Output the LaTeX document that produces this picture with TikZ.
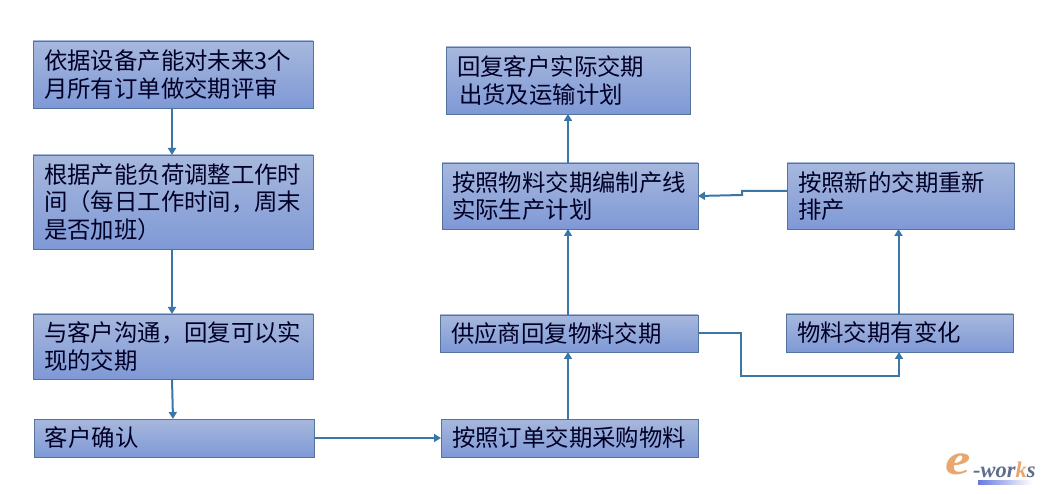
\documentclass[tikz,border=0pt]{standalone}
\usepackage{fontspec}
\usetikzlibrary{arrows.meta}
\newfontfamily\cjkfont{Noto Sans CJK SC}
\newfontfamily\logofont[BoldItalicFont=* Bold Italic]{Liberation Serif}
\definecolor{boxtop}{HTML}{A7B8DD}
\definecolor{boxbot}{HTML}{7F99D6}
\definecolor{boxline}{HTML}{54749F}
\definecolor{flowline}{HTML}{3A76A8}
\definecolor{logoorange}{HTML}{E9A66F}
\definecolor{logoblue}{HTML}{5F6E8C}
\tikzset{
  x=1pt, y=-1pt,
  flowbox/.style={draw=boxline, line width=0.9pt, top color=boxtop, bottom color=boxbot,
    anchor=north west, outer sep=0pt, inner ysep=0pt, inner xsep=11pt, align=left,
    text=black!85!blue, font=\cjkfont\fontsize{23.4}{27.5}\selectfont},
  link/.style={draw=flowline, line width=2pt, -{Triangle[length=7pt,width=8pt]}},
  logotext/.style={inner sep=0pt, anchor=west, font=\logofont\bfseries\itshape}
}
\begin{document}
\begin{tikzpicture}
\useasboundingbox (0,0) rectangle (1042,494);
\fill[white] (0,0) rectangle (1042,494);

% left column
\node[flowbox, minimum width=280pt, minimum height=67pt, text width=258pt] (assess) at (33,41)
  {依据设备产能对未来3个\\月所有订单做交期评审};
\node[flowbox, minimum width=280pt, minimum height=94pt, text width=258pt] (adjust) at (33,155)
  {根据产能负荷调整工作时\\间（每日工作时间，周末\\是否加班）};
\node[flowbox, minimum width=280pt, minimum height=65pt, text width=258pt] (reply) at (33,314)
  {与客户沟通，回复可以实\\现的交期};
\node[flowbox, minimum width=280pt, minimum height=38pt, text width=258pt] (confirm) at (34,419)
  {客户确认};

% middle column
\node[flowbox, minimum width=257pt, minimum height=38pt, text width=235pt, inner xsep=10pt] (purchase) at (441,419)
  {按照订单交期采购物料};
\node[flowbox, minimum width=258pt, minimum height=37pt, text width=236pt] (supplier) at (440,315)
  {供应商回复物料交期};
\node[flowbox, minimum width=256pt, minimum height=66pt, text width=236pt, inner xsep=10pt] (plan) at (442,163)
  {按照物料交期编制产线\\实际生产计划};
\node[flowbox, minimum width=244pt, minimum height=67pt, text width=222pt] (ship) at (446,47)
  {回复客户实际交期\\\hspace*{2pt}出货及运输计划};

% right column
\node[flowbox, minimum width=227pt, minimum height=66pt, text width=205pt] (resched) at (787,163)
  {按照新的交期重新\\排产};
\node[flowbox, minimum width=227pt, minimum height=38pt, text width=205pt] (change) at (786,314)
  {物料交期有变化};

% connectors
\draw[link] ([xshift=-1pt]assess.south) -- ([xshift=-1pt]adjust.north);
\draw[link] ([xshift=-1pt]adjust.south) -- ([xshift=-1pt]reply.north);
\draw[link] ([xshift=-1pt]reply.south) -- ([xshift=-1pt]confirm.north);
\draw[link] (confirm.east) -- (purchase.west);
\draw[link] ([xshift=-1.5pt]purchase.north) -- ([xshift=-1pt]supplier.south);
\draw[link] ([xshift=-1pt]supplier.north) -- ([xshift=-2pt]plan.south);
\draw[link] ([xshift=-2pt]plan.north) -- (ship.south);
\draw[link] ([yshift=5pt]resched.west) -- ++(-45,0) -- ++(0,4) -- (plan.east);
\draw[link] ([xshift=-1pt]change.north) -- ([xshift=-2pt]resched.south);
\draw[link] (supplier.east) -- ++(43,0) |- ++(158,43) -- ([xshift=-0.5pt]change.south);

% logo
\shade[left color=boxbot!80!blue, right color=white] (978,480) rectangle (1032,484);
\node[logotext, text=logoorange, xscale=1.3, font=\logofont\bfseries\itshape\fontsize{44}{44}\selectfont] (logoe) at (945,464) {e};
\node[logotext, text=logoblue, font=\logofont\bfseries\itshape\fontsize{22.5}{22.5}\selectfont] (logow) at (973,470)
  {-wor\textcolor{logoorange}{k}s};
\end{tikzpicture}
\end{document}
